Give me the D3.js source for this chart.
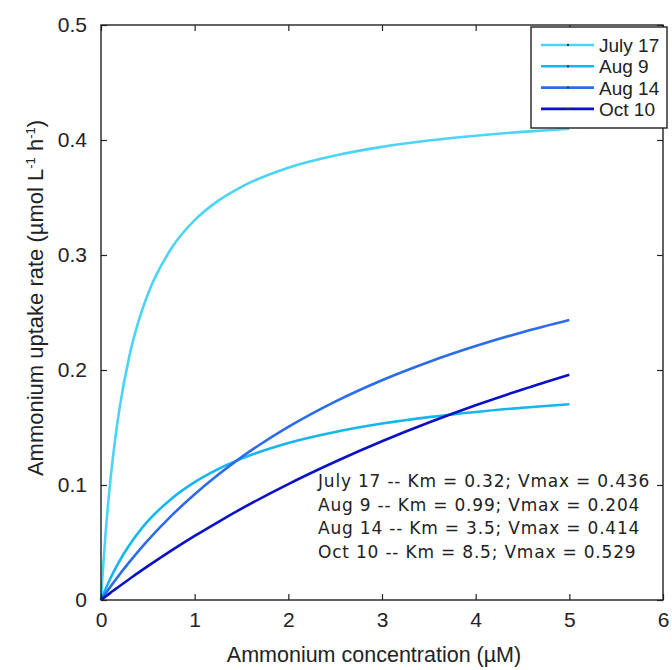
<!DOCTYPE html>
<html>
<head>
<meta charset="utf-8">
<script src="https://cdn.jsdelivr.net/npm/d3@7"></script>
<style>
  html, body { margin: 0; padding: 0; background: #fff; }
  svg { display: block; }
</style>
</head>
<body>
<svg id="chart" width="672" height="670"></svg>
<script>
// ammonium concentration (uM) at which the curves are read
const conc = [0, 0.02, 0.05, 0.1, 0.15, 0.2, 0.3, 0.4, 0.5, 0.75, 1, 1.25, 1.5, 2, 2.5, 3, 3.5, 4, 4.5, 5];

// uptake rate (umol L-1 h-1)
const july17 = [0, 0.0257, 0.0589, 0.1038, 0.1391, 0.1677, 0.2110, 0.2422, 0.2659, 0.3056, 0.3303, 0.3471, 0.3593, 0.3759, 0.3865, 0.3940, 0.3995, 0.4037, 0.4071, 0.4098];
const aug9 = [0, 0.0040, 0.0098, 0.0187, 0.0268, 0.0343, 0.0474, 0.0587, 0.0685, 0.0879, 0.1025, 0.1138, 0.1229, 0.1365, 0.1461, 0.1534, 0.1590, 0.1635, 0.1672, 0.1703];
const aug14 = [0, 0.0024, 0.0058, 0.0115, 0.0170, 0.0224, 0.0327, 0.0425, 0.0518, 0.0731, 0.0920, 0.1089, 0.1242, 0.1505, 0.1725, 0.1911, 0.2070, 0.2208, 0.2329, 0.2435];
const oct10 = [0, 0.0012, 0.0031, 0.0062, 0.0092, 0.0122, 0.0180, 0.0238, 0.0294, 0.0429, 0.0557, 0.0678, 0.0794, 0.1008, 0.1202, 0.1380, 0.1543, 0.1693, 0.1831, 0.1959];

const seriesNames = ['July 17', 'Aug 9', 'Aug 14', 'Oct 10'];
const seriesValues = [july17, aug9, aug14, oct10];
const seriesColors = ['#4cd4f7', '#15b6ee', '#2a6cea', '#0a12c6'];

const fitLabels = [
  'July 17 -- Km = 0.32; Vmax = 0.436',
  'Aug 9 -- Km = 0.99; Vmax = 0.204',
  'Aug 14 -- Km = 3.5; Vmax = 0.414',
  'Oct 10 -- Km = 8.5; Vmax = 0.529'
];

const xTicks = [0, 1, 2, 3, 4, 5, 6];
const yTicks = [0, 0.1, 0.2, 0.3, 0.4, 0.5];

// layout
const margin = { top: 25, right: 9, bottom: 70, left: 101 };
const width = 672, height = 670;

const svg = d3.select('#chart');

const x = d3.scaleLinear().domain([0, 6]).range([margin.left, width - margin.right]);
const y = d3.scaleLinear().domain([0, 0.5]).range([height - margin.bottom, margin.top]);

const tickFont = '"Liberation Sans", Arial, sans-serif';

// curves
const line = d3.line()
  .x(d => x(d[0]))
  .y(d => y(d[1]))
  .curve(d3.curveMonotoneX);

svg.append('g')
  .selectAll('path')
  .data(seriesValues)
  .enter()
  .append('path')
  .attr('d', vals => line(conc.map((c, i) => [c, vals[i]])))
  .attr('fill', 'none')
  .attr('stroke', (d, i) => seriesColors[i])
  .attr('stroke-width', 2.6)
  .attr('stroke-linejoin', 'round');

// axes, ticks point inward like matlab
const styleAxis = g => {
  g.select('.domain').remove();
  g.selectAll('.tick line').attr('stroke', '#222').attr('stroke-width', 1.2);
  g.selectAll('.tick text')
    .attr('fill', '#222')
    .style('font-family', tickFont)
    .style('font-size', '21px');
};

svg.append('g')
  .attr('transform', `translate(0,${y(0)})`)
  .call(d3.axisBottom(x).tickValues(xTicks).tickFormat(d3.format('d')).tickSizeInner(-6).tickSizeOuter(0).tickPadding(12))
  .call(styleAxis);

svg.append('g')
  .attr('transform', `translate(0,${y(0.5)})`)
  .call(d3.axisTop(x).tickValues(xTicks).tickSizeInner(-6).tickSizeOuter(0).tickFormat(''))
  .call(styleAxis);

svg.append('g')
  .attr('transform', `translate(${x(0)},0)`)
  .call(d3.axisLeft(y).tickValues(yTicks).tickFormat(d => d === 0 ? '0' : d3.format('.1f')(d)).tickSizeInner(-6).tickSizeOuter(0).tickPadding(14))
  .call(styleAxis);

svg.append('g')
  .attr('transform', `translate(${x(6)},0)`)
  .call(d3.axisRight(y).tickValues(yTicks).tickSizeInner(-6).tickSizeOuter(0).tickFormat(''))
  .call(styleAxis);

// frame
svg.append('rect')
  .attr('x', x(0)).attr('y', y(0.5))
  .attr('width', x(6) - x(0)).attr('height', y(0) - y(0.5))
  .attr('fill', 'none').attr('stroke', '#222').attr('stroke-width', 1.4);

// axis titles
svg.append('text')
  .attr('x', 374)
  .attr('y', 662)
  .attr('text-anchor', 'middle')
  .style('font-family', tickFont)
  .style('font-size', '21.5px')
  .attr('fill', '#222')
  .text('Ammonium concentration (\u00b5M)');

const yTitle = svg.append('text')
  .attr('transform', 'translate(43,298) rotate(-90)')
  .attr('text-anchor', 'middle')
  .style('font-family', tickFont)
  .style('font-size', '22px')
  .attr('fill', '#222');
yTitle.append('tspan').text('Ammonium uptake rate (\u00b5mol L');
yTitle.append('tspan').attr('dy', -8).style('font-size', '13px').text('-1');
yTitle.append('tspan').attr('dy', 8).text(' h');
yTitle.append('tspan').attr('dy', -8).style('font-size', '13px').text('-1');
yTitle.append('tspan').attr('dy', 8).text(')');

// legend
const legend = svg.append('g');
legend.append('rect')
  .attr('x', 531).attr('y', 27)
  .attr('width', 136).attr('height', 101)
  .attr('fill', '#fff').attr('stroke', '#222').attr('stroke-width', 1.4);

const rows = legend.selectAll('g.row')
  .data(seriesNames)
  .enter()
  .append('g')
  .attr('class', 'row')
  .attr('transform', (d, i) => `translate(0,${45 + i * 21.3})`);

rows.append('line')
  .attr('x1', 541).attr('x2', 594)
  .attr('stroke', (d, i) => seriesColors[i])
  .attr('stroke-width', 2.6);

rows.append('rect')
  .attr('x', 567).attr('y', -1).attr('width', 2).attr('height', 2)
  .attr('fill', '#333');

rows.append('text')
  .attr('x', 599).attr('y', 7)
  .style('font-family', tickFont)
  .style('font-size', '19px')
  .attr('fill', '#222')
  .text(d => d);

// fit parameters
svg.append('g')
  .selectAll('text')
  .data(fitLabels)
  .enter()
  .append('text')
  .attr('x', 318)
  .attr('y', (d, i) => 487 + i * 23.5)
  .style('font-family', '"DejaVu Sans", sans-serif')
  .style('font-size', '17px')
  .style('letter-spacing', '0.8px')
  .attr('fill', '#222')
  .text(d => d);
</script>
</body>
</html>
